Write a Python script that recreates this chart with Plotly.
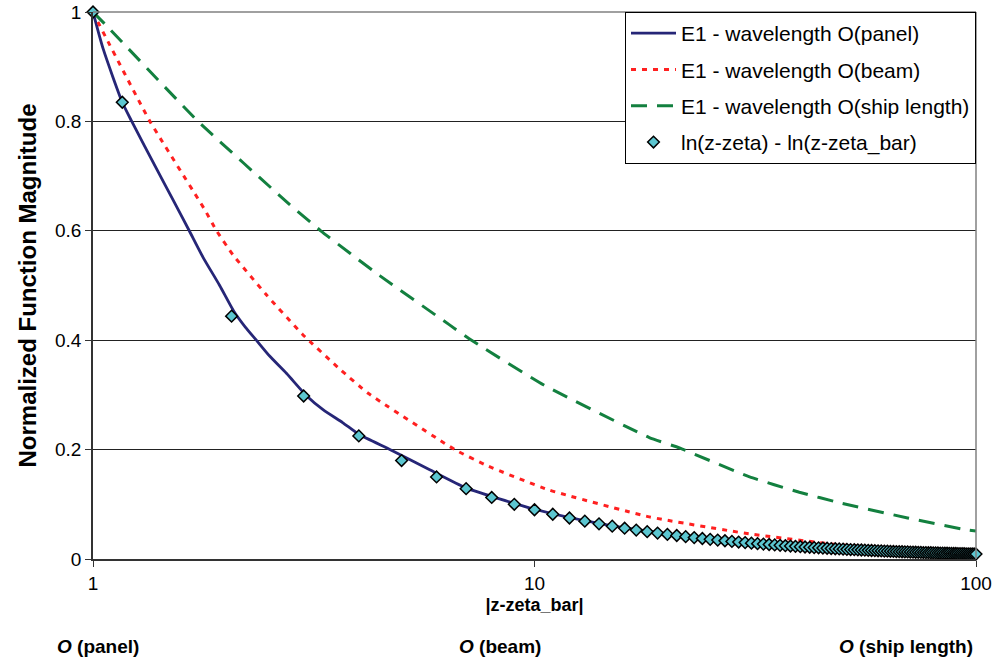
import plotly.graph_objects as go

# ---- data ----
panel_x = [1, 1.055, 1.165, 1.224, 1.4, 1.517, 1.65, 1.774, 1.936, 2.084, 2.213, 2.344, 2.512,
           2.742, 3.041, 3.319, 3.681, 4.0, 4.74, 5.79, 7, 10, 14, 20, 30, 50, 70, 100]
panel_y = [1, 0.932, 0.835, 0.8, 0.71, 0.657, 0.601, 0.552, 0.500, 0.453, 0.424, 0.4, 0.371,
           0.3395, 0.299, 0.273, 0.249, 0.228, 0.199, 0.163, 0.130, 0.091, 0.065, 0.046, 0.030,
           0.018, 0.013, 0.009]

beam_x = [1, 1.036, 1.346, 1.79, 1.905, 2.075, 2.47, 2.98, 3.64, 4.2, 6.6, 7.84, 10.8, 18.2,
          30.6, 49, 70, 100]
beam_y = [1, 0.975, 0.8, 0.639, 0.6, 0.556, 0.483, 0.411, 0.3456, 0.303, 0.2, 0.17, 0.126,
          0.077, 0.046, 0.026, 0.018, 0.012]

ship_x = [1, 1.064, 1.73, 2.79, 3.28, 4.46, 6.42, 7.1, 10.5, 18.2, 21.3, 30.7, 39.8, 49, 70,
          94.8, 100]
ship_y = [1, 0.978, 0.8, 0.648, 0.6, 0.518, 0.428, 0.403, 0.318, 0.222, 0.203, 0.150, 0.122,
          0.103, 0.075, 0.0535, 0.051]

log_x = [1, 1.165, 2.06] + list(range(3, 101))
log_y = [1, 0.835, 0.444, 0.298, 0.225, 0.18,
         0.150, 0.1286, 0.1125, 0.100, 0.090, 0.0818, 0.075, 0.0692, 0.0643, 0.060,
         0.0563, 0.0529, 0.050, 0.0474, 0.045, 0.0429, 0.0409, 0.0391, 0.0375, 0.036,
         0.0346, 0.0333, 0.0321, 0.031, 0.030, 0.029, 0.0281, 0.0273, 0.0265, 0.0257,
         0.025, 0.0243, 0.0237, 0.0231, 0.0225, 0.022, 0.0214, 0.0209, 0.0205, 0.020,
         0.0196, 0.0191, 0.0188, 0.0184, 0.018, 0.0176, 0.0173, 0.017, 0.0167, 0.0164,
         0.0161, 0.0158, 0.0155, 0.0153, 0.015, 0.0148, 0.0145, 0.0143, 0.0141, 0.0138,
         0.0136, 0.0134, 0.0132, 0.013, 0.0129, 0.0127, 0.0125, 0.0123, 0.0122, 0.012,
         0.0118, 0.0117, 0.0115, 0.0114, 0.0113, 0.0111, 0.011, 0.0108, 0.0107, 0.0106,
         0.0105, 0.0103, 0.0102, 0.0101, 0.010, 0.0099, 0.0098, 0.0097, 0.0096, 0.0095,
         0.0094, 0.0093, 0.0092, 0.0091, 0.009]

names = ["E1 - wavelength O(panel)", "E1 - wavelength O(beam)",
         "E1 - wavelength O(ship length)", "ln(z-zeta) - ln(z-zeta_bar)"]
x_ticks = [1, 10, 100]
bottom_labels = ["<b><i>O</i> (panel)</b>", "<b><i>O</i> (beam)</b>", "<b><i>O</i> (ship length)</b>"]

FONT = "Liberation Sans, Arial, sans-serif"

fig = go.Figure()
fig.add_trace(go.Scatter(x=panel_x, y=panel_y, mode="lines", name=names[0], legendgroup="a",
                         line=dict(color="#262677", width=2.8, shape="spline", smoothing=0.6)))
fig.add_trace(go.Scatter(x=beam_x, y=beam_y, mode="lines", name=names[1], legendgroup="b",
                         line=dict(color="#FF2020", width=3, dash="5px,6px", shape="spline",
                                   smoothing=0.4)))
fig.add_trace(go.Scatter(x=ship_x, y=ship_y, mode="lines", name=names[2], legendgroup="c",
                         line=dict(color="#13803F", width=3, dash="16px,10px", shape="spline",
                                   smoothing=0.4)))
fig.add_trace(go.Scatter(x=log_x, y=log_y, mode="markers", name=names[3], legendgroup="d",
                         marker=dict(symbol="diamond", size=9, color="#5CC6D0",
                                     line=dict(color="black", width=1.5)),
                         cliponaxis=False))

# bottom order-of-magnitude labels
for lab, px, anc in zip(bottom_labels, [55, 457, 975], ["left", "left", "right"]):
    fig.add_annotation(text=lab, xref="paper", yref="paper", x=(px - 93) / 883, y=-0.160,
                       xanchor=anc, yanchor="middle", showarrow=False,
                       font=dict(family=FONT, size=19, color="black"))

# gray top and right plot border
fig.add_shape(type="line", xref="paper", yref="paper", x0=0, x1=1, y0=1, y1=1,
              line=dict(color="#808080", width=1.5), layer="above")
fig.add_shape(type="line", xref="paper", yref="paper", x0=1, x1=1, y0=0, y1=1,
              line=dict(color="#808080", width=1.5), layer="above")

fig.update_layout(
    width=995, height=666,
    margin=dict(l=93, r=19, t=12, b=107),
    paper_bgcolor="white", plot_bgcolor="white",
    font=dict(family=FONT, color="black"),
    showlegend=True,
    legend=dict(x=1, y=1, xanchor="right", yanchor="top",
                bordercolor="black", borderwidth=1, bgcolor="white",
                font=dict(family=FONT, size=21, color="black"),
                traceorder="grouped", tracegroupgap=6, itemwidth=45),
    xaxis=dict(type="log", range=[0, 2], tickvals=x_ticks, ticktext=[str(v) for v in x_ticks],
               automargin=False,
               showgrid=False, showline=True, linecolor="#333333", linewidth=1.5,
               ticks="outside", ticklen=6, tickcolor="#333333",
               tickfont=dict(family=FONT, size=19, color="black"),
               title=dict(text="<b>|z-zeta_bar|</b>", font=dict(family=FONT, size=18, color="black"),
                          standoff=6),
               zeroline=False),
    yaxis=dict(range=[0, 1], dtick=0.2, showgrid=True, gridcolor="#222222", gridwidth=1,
               automargin=False,
               showline=True, linecolor="#333333", linewidth=1.5,
               ticks="outside", ticklen=6, tickcolor="#333333",
               tickfont=dict(family=FONT, size=19, color="black"),
               title=dict(text="<b>Normalized Function Magnitude</b>",
                          font=dict(family=FONT, size=24, color="black"), standoff=12),
               zeroline=False),
)

fig.write_html("out.html")
